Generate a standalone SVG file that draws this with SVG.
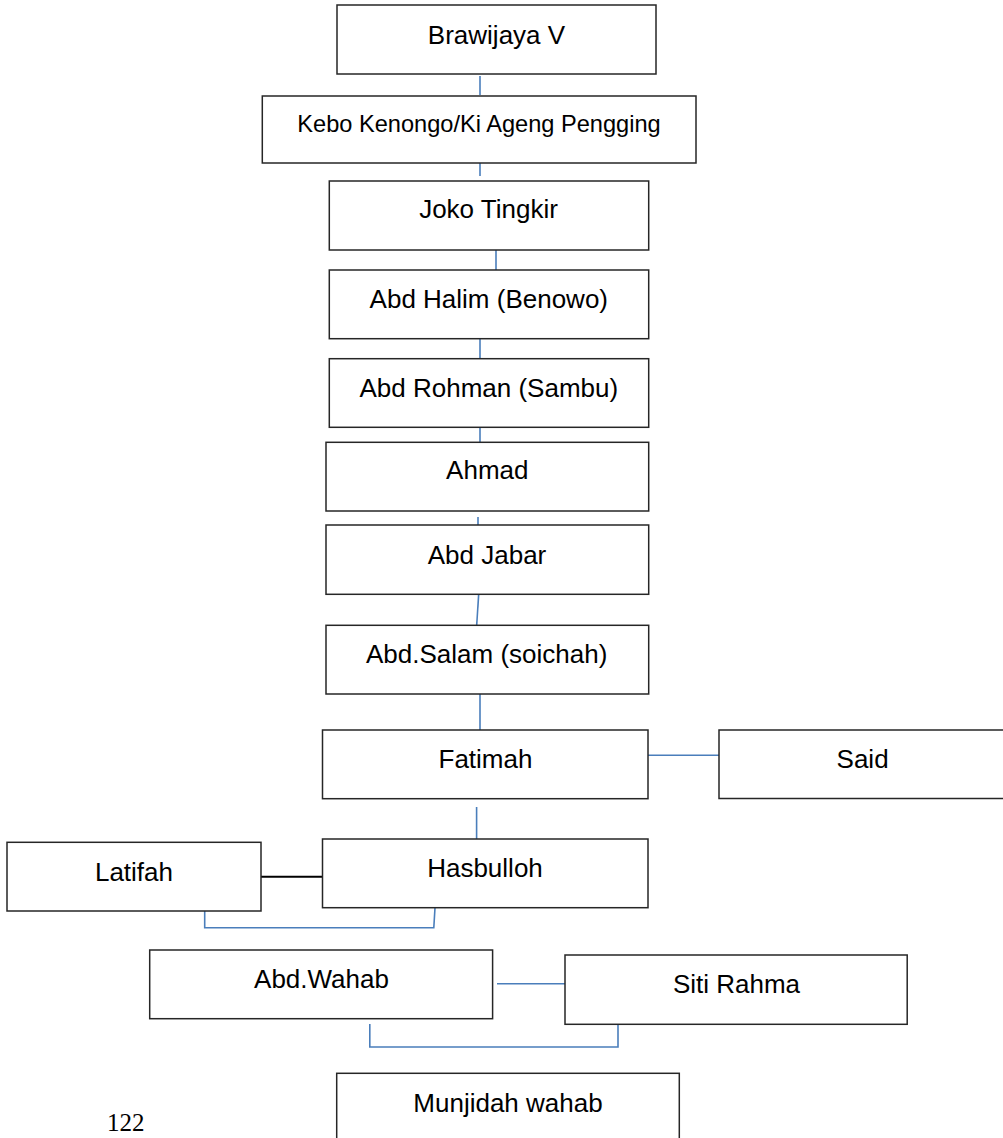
<svg xmlns="http://www.w3.org/2000/svg" width="1003" height="1138" viewBox="0 0 1003 1138">
<style>
.box{fill:#fff;stroke:#262626;stroke-width:1.5}
.t{font-family:"Liberation Sans","Open Sans",sans-serif;font-size:26px;fill:#000;text-anchor:middle}
.c{fill:none;stroke:#4a7ebb;stroke-width:1.6}
.k{fill:none;stroke:#000;stroke-width:2}
</style>
<rect width="1003" height="1138" fill="#fff"/>
<g id="connectors">
<line class="c" x1="480" y1="76" x2="480" y2="95"/>
<line class="c" x1="480" y1="156" x2="480" y2="176"/>
<line class="c" x1="496" y1="250" x2="496" y2="270"/>
<line class="c" x1="480" y1="339" x2="480" y2="359"/>
<line class="c" x1="480" y1="423" x2="480" y2="442"/>
<line class="c" x1="478" y1="517" x2="478" y2="537"/>
<line class="c" x1="478.7" y1="594" x2="476.7" y2="625"/>
<line class="c" x1="480" y1="694" x2="480" y2="730"/>
<line class="c" x1="648" y1="755.3" x2="719" y2="755.3" stroke-width="2"/>
<line class="c" x1="476.6" y1="807" x2="476.6" y2="843"/>
<line class="k" x1="261" y1="876.7" x2="322.5" y2="876.7"/>
<polyline class="c" points="204.7,911 204.7,927.7 433.8,927.7 435,907.7"/>
<line class="c" x1="497" y1="983.7" x2="565" y2="983.7" stroke-width="2"/>
<polyline class="c" points="369.8,1024 369.8,1047 618,1047 618,1024"/>
</g>
<g id="n-brawijaya"><rect class="box" x="337" y="5" width="319" height="69"/><text class="t" x="496.5" y="44.3">Brawijaya V</text></g>
<g id="n-kebo"><rect class="box" x="262.3" y="96" width="433.7" height="67"/><text class="t" x="479" y="131.7" style="font-size:23.6px">Kebo Kenongo/Ki Ageng Pengging</text></g>
<g id="n-joko"><rect class="box" x="329.3" y="181" width="319.4" height="69"/><text class="t" x="488.5" y="218.3">Joko Tingkir</text></g>
<g id="n-halim"><rect class="box" x="329.3" y="270" width="319.4" height="68.7"/><text class="t" x="488.8" y="308.3">Abd Halim (Benowo)</text></g>
<g id="n-rohman"><rect class="box" x="329.3" y="358.7" width="319.4" height="68.6"/><text class="t" x="488.8" y="396.7">Abd Rohman (Sambu)</text></g>
<g id="n-ahmad"><rect class="box" x="326" y="442.3" width="322.7" height="68.7"/><text class="t" x="487.3" y="479.3">Ahmad</text></g>
<g id="n-jabar"><rect class="box" x="326" y="525" width="322.7" height="69.3"/><text class="t" x="487" y="564">Abd Jabar</text></g>
<g id="n-salam"><rect class="box" x="326" y="625.3" width="322.7" height="68.7"/><text class="t" x="486.7" y="663.3">Abd.Salam (soichah)</text></g>
<g id="n-fatimah"><rect class="box" x="322.5" y="730" width="325.5" height="68.7"/><text class="t" x="485.5" y="768.3">Fatimah</text></g>
<g id="n-said"><rect class="box" x="719" y="730" width="300" height="68.5"/><text class="t" x="862.6" y="768.3">Said</text></g>
<g id="n-latifah"><rect class="box" x="7" y="842.3" width="254" height="68.7"/><text class="t" x="134" y="881">Latifah</text></g>
<g id="n-hasbulloh"><rect class="box" x="322.5" y="839" width="325.5" height="68.7"/><text class="t" x="485" y="876.7">Hasbulloh</text></g>
<g id="n-wahab"><rect class="box" x="149.7" y="950" width="342.9" height="68.7"/><text class="t" x="321.5" y="988.3">Abd.Wahab</text></g>
<g id="n-rahma"><rect class="box" x="565" y="955" width="342.2" height="69.3"/><text class="t" x="736.5" y="993.3">Siti Rahma</text></g>
<g id="n-munjidah"><rect class="box" x="336.7" y="1073.3" width="342.6" height="80"/><text class="t" x="508" y="1111.7">Munjidah wahab</text></g>
<text x="107" y="1131" font-family="Liberation Serif,serif" font-size="25" fill="#000">122</text>
</svg>
